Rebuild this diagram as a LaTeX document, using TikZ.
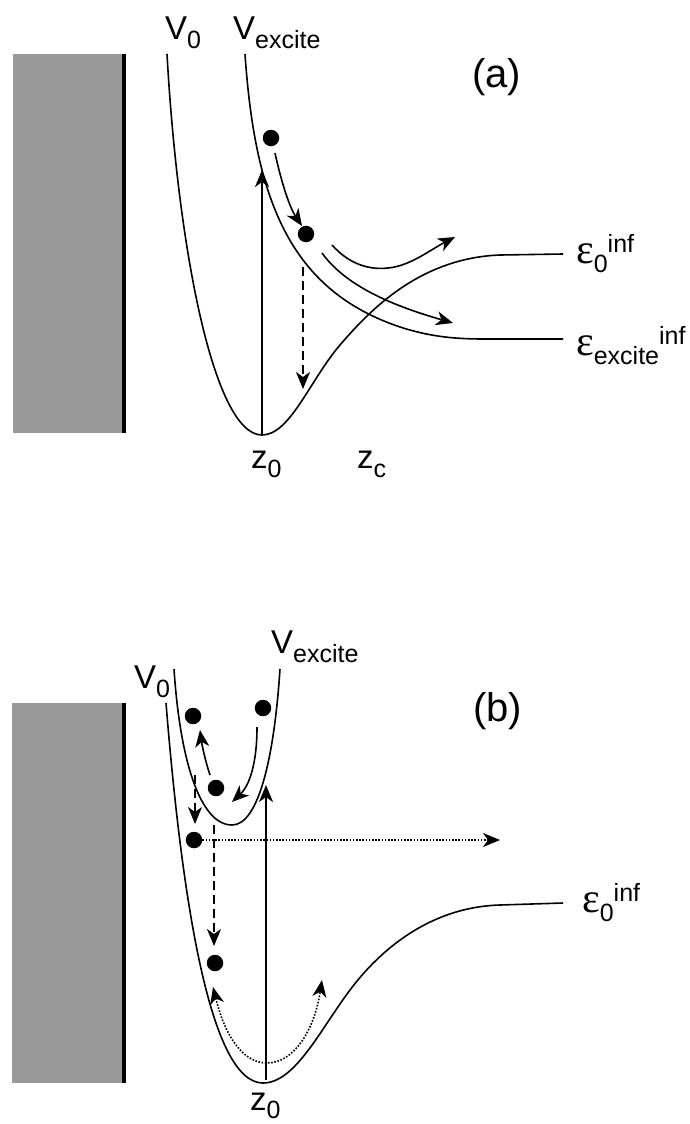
\documentclass[tikz,border=0pt]{standalone}
\usepackage{fontspec}
\setmainfont{Liberation Sans}
\newfontfamily\greekf{Liberation Serif}
\usetikzlibrary{arrows.meta}
\newcommand\lsub[1]{\raisebox{-9pt}{\fontsize{25}{25}\selectfont #1}}
\newcommand\lsup[1]{\raisebox{11pt}{\fontsize{25}{25}\selectfont #1}}
\newcommand\eps{{\greekf\fontsize{42}{44}\selectfont ε}}
\definecolor{wallgray}{gray}{0.6}
\begin{document}
\begin{tikzpicture}[x=1pt,y=-1pt,
  curve/.style={line width=1.6pt},
  arr/.style={line width=1.6pt,-{Stealth[length=17pt,width=14pt,inset=5pt]}},
  dblarr/.style={line width=1.6pt,{Stealth[length=17pt,width=14pt,inset=5pt]}-{Stealth[length=17pt,width=14pt,inset=5pt]}},
  dashedline/.style={dash pattern=on 9pt off 5pt},
  dottedline/.style={dash pattern=on 1.6pt off 1.6pt},
  dotnode/.style={circle,fill=black,minimum size=16.5pt,inner sep=0pt},
  lbl/.style={anchor=base west,inner sep=0pt,font=\fontsize{33}{38}\selectfont},
  biglbl/.style={anchor=base west,inner sep=0pt,font=\fontsize{40}{46}\selectfont},
  wallfill/.style={fill=wallgray,draw=none},
  wallline/.style={line width=3.6pt}
]
\useasboundingbox[fill=white] (0,0) rectangle (689,1124);

% ---------------- (a) ----------------
\fill[wallfill] (13,54) rectangle (122,433);
\draw[wallline] (124,54) -- (124,433);

% V0 (a)
\draw[curve] (167,54) .. controls (178,250) and (214,435) .. (262,435)
  .. controls (290,435) and (310,380) .. (340,345)
  .. controls (370,310) and (420,258) .. (500,255) -- (563,254);
% Vexcite (a)
\draw[curve] (245,54) .. controls (255,200) and (290,290) .. (400,327)
  .. controls (440,340) and (470,339) .. (500,339) -- (563,339);

\coordinate (z0a) at (262,435);
\coordinate (z0atop) at (262,170);
\draw[arr] (z0a) -- (z0atop);

\node[dotnode] (a1) at (271,138) {};
\node[dotnode] (a2) at (306,234) {};
\draw[arr] (275,153) .. controls (282,185) and (290,208) .. (302,226);
\draw[arr,dashedline] (303,267) -- (303,389);
\draw[arr] (332,245) .. controls (350,265) and (370,270) .. (388,268) .. controls (410,266) and (430,250) .. (455,237);
\draw[arr] (322,253) .. controls (345,285) and (390,305) .. (453,323);

\node[lbl] (va0) at (165,40) {V\lsub{0}};
\node[lbl] (vaex) at (233,40) {V\lsub{excite}};
\node[biglbl] (la) at (472,87) {(a)};
\node[lbl] (ea0) at (576,263) {\eps\lsub{0}\lsup{inf}};
\node[lbl] (eaex) at (576,355) {\eps\lsub{excite}\lsup{inf}};
\node[lbl] (za0) at (251,468) {z\lsub{0}};
\node[lbl] (zac) at (357,468) {z\lsub{c}};

% ---------------- (b) ----------------
\fill[wallfill] (12,703) rectangle (122,1083);
\draw[wallline] (124,703) -- (124,1083);

% V0 (b)
\draw[curve] (166,703) .. controls (182,900) and (210,1083) .. (263,1083)
  .. controls (295,1083) and (320,1030) .. (350,990)
  .. controls (380,950) and (430,907) .. (500,905) -- (563,903);
% Vexcite (b)
\draw[curve] (174,669) .. controls (180,760) and (200,825) .. (232,825)
  .. controls (258,825) and (274,760) .. (280,669);

\node[dotnode] (b1) at (193,716) {};
\node[dotnode] (b2) at (263,708) {};
\node[dotnode] (b3) at (216,788) {};
\node[dotnode] (b4) at (194,840) {};
\node[dotnode] (b5) at (215,963) {};

\draw[arr] (257,727) .. controls (257,762) and (250,785) .. (232,802);
\draw[arr] (210,775) .. controls (205,760) and (202,745) .. (200,730);
\draw[arr,dashedline] (195,775) -- (195,824);
\draw[arr,dashedline] (214,825) -- (214,946);
\coordinate (hend) at (500,840);
\draw[arr,dottedline] (b4.east) -- (hend);
\coordinate (z0b) at (266,1080);
\coordinate (z0btop) at (266,785);
\draw[arr] (z0b) -- (z0btop);
\draw[dblarr,dottedline] (213,987) .. controls (226,1040) and (245,1063) .. (267,1063) .. controls (293,1063) and (314,1032) .. (322,980);

\node[lbl] (vb0) at (134,688) {V\lsub{0}};
\node[lbl] (vbex) at (271,653) {V\lsub{excite}};
\node[biglbl] (lb) at (473,721) {(b)};
\node[lbl] (eb0) at (582,912) {\eps\lsub{0}\lsup{inf}};
\node[lbl] (zb0) at (250,1110) {z\raisebox{-8pt}{\fontsize{25}{25}\selectfont 0}};
\end{tikzpicture}
\end{document}
